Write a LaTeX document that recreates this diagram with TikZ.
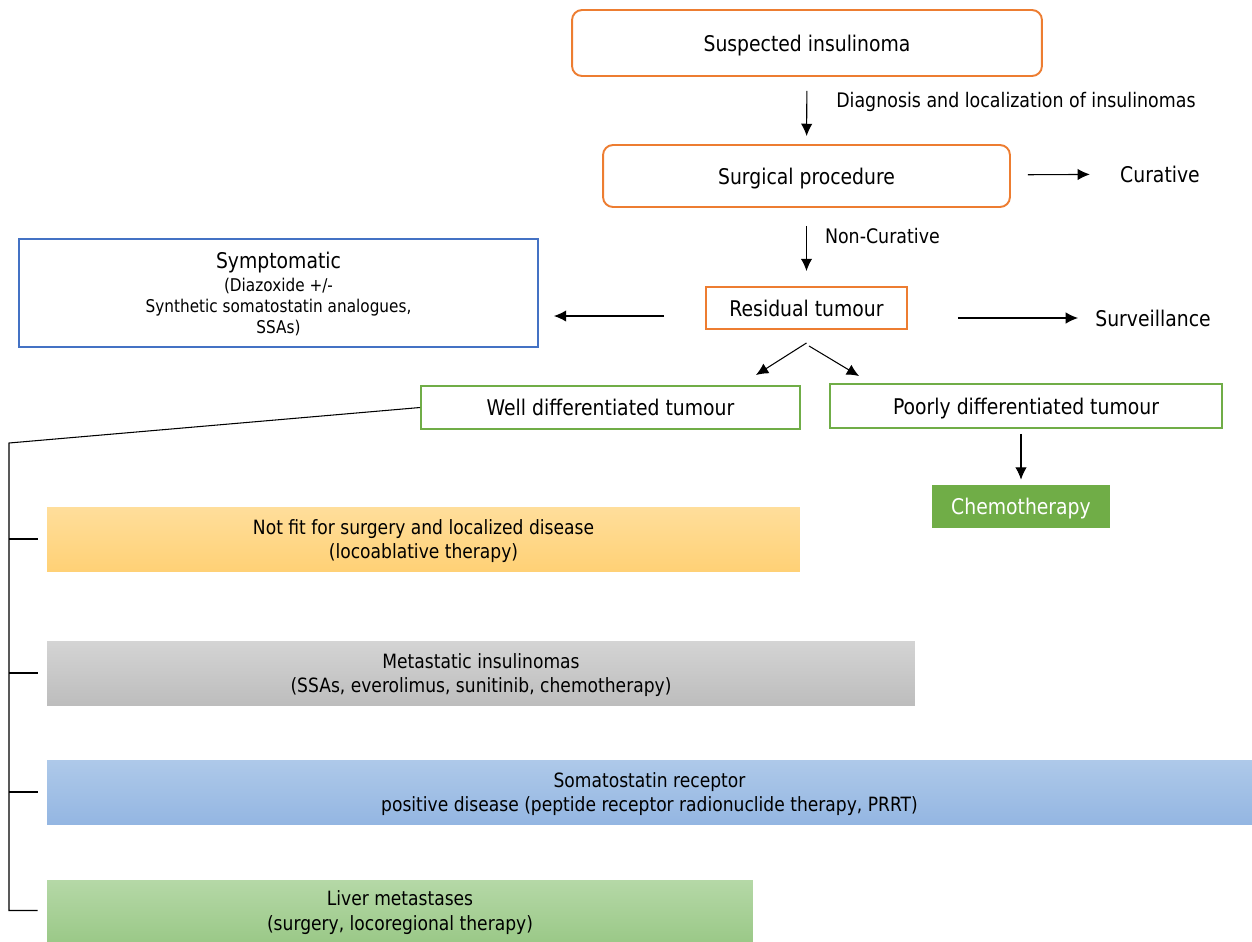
\documentclass[tikz,border=0pt]{standalone}
\usepackage{fontspec}
\setmainfont{DejaVu Sans}[FakeStretch=0.87]
\usetikzlibrary{positioning, arrows.meta}
\definecolor{insorange}{HTML}{ED7D31}
\definecolor{insblue}{HTML}{4472C4}
\definecolor{insgreen}{HTML}{70AD47}

\begin{document}
\begin{tikzpicture}[x=0.02cm, y=-0.02cm,
  big/.style={font=\fontsize{12.3}{14}\selectfont, text depth=0pt},
  small/.style={font=\fontsize{11.4}{13.7}\selectfont},
  stage/.style={draw=insorange, line width=1.1pt, rounded corners=0.2cm, big},
  tumbox/.style={line width=1.1pt, big},
  treat/.style={align=center, inner sep=0pt, text depth=0pt, font=\fontsize{11.2}{13.7}\selectfont},
  arr/.style={-{Latex[length=7pt,width=6.5pt]}, line width=0.6pt},
  tree/.style={line width=0.6pt}]
            \useasboundingbox (0,0) rectangle (1252,941);

            \node[stage, minimum width=9.4cm, minimum height=1.32cm] (susp) at (807,43) {Suspected insulinoma};
            \node[stage, minimum width=8.14cm, minimum height=1.24cm] (surg) at (806.5,176) {Surgical procedure};
            \node[tumbox, draw=insorange, minimum width=4.02cm, minimum height=0.84cm] (resid) at (806.5,308) {Residual tumour};
            \node[tumbox, draw=insblue, minimum width=10.38cm, minimum height=2.16cm, align=center,
                  font=\fontsize{10}{12}\selectfont] (symp) at (278.5,293)
                  {{\fontsize{12.3}{12}\selectfont Symptomatic}\\[1pt](Diazoxide +/-\\Synthetic somatostatin analogues,\\SSAs)};
            \node[tumbox, draw=insgreen, minimum width=7.58cm, minimum height=0.86cm] (well) at (610.5,407.5) {Well differentiated tumour};
            \node[tumbox, draw=insgreen, minimum width=7.84cm, minimum height=0.88cm] (poor) at (1026,406) {Poorly differentiated tumour};
            \node[big, fill=insgreen, text=white, minimum width=3.56cm, minimum height=0.86cm] (chemo) at (1021,506.5) {Chemotherapy};
            \node[big, inner sep=0pt] (cur) at (1160,174) {Curative};
            \node[big, inner sep=0pt] (surv) at (1153,318) {Surveillance};

            \node[treat, top color={rgb,255:red,255;green,222;blue,155}, bottom color={rgb,255:red,255;green,209;blue,118},
                  minimum width=15.06cm, minimum height=1.28cm] (fit) at (423.5,539)
                  {Not fit for surgery and localized disease\\(locoablative therapy)};
            \node[treat, top color={rgb,255:red,212;green,212;blue,212}, bottom color={rgb,255:red,189;green,189;blue,189},
                  minimum width=17.36cm, minimum height=1.28cm] (meta) at (481,673)
                  {Metastatic insulinomas\\(SSAs, everolimus, sunitinib, chemotherapy)};
            \node[treat, top color={rgb,255:red,174;green,201;blue,233}, bottom color={rgb,255:red,148;green,182;blue,226},
                  minimum width=24.1cm, minimum height=1.28cm] (prrt) at (649.5,792)
                  {Somatostatin receptor\\positive disease (peptide receptor radionuclide therapy, PRRT)};
            \node[treat, top color={rgb,255:red,181;green,216;blue,167}, bottom color={rgb,255:red,155;green,201;blue,136},
                  minimum width=14.12cm, minimum height=1.22cm] (liver) at (400,910.5)
                  {Liver metastases\\(surgery, locoregional therapy)};

            \draw[arr, shorten <=0.28cm, shorten >=0.16cm] (susp) -- (surg)
                node[small, pos=0.37, right=0.58cm, inner sep=0pt] {Diagnosis and localization of insulinomas};
            \draw[arr, shorten <=0.34cm, shorten >=0.6cm] (surg) -- (cur);
            \draw[arr, shorten <=0.36cm, shorten >=0.3cm] (surg) -- (resid)
                node[small, pos=0.36, right=0.36cm, inner sep=0pt] {Non-Curative};
            \draw[arr, shorten <=0.82cm, shorten >=0.3cm] ([yshift=-0.16cm]resid.west) -- ([yshift=-0.16cm]resid.west -| symp.east);
            \draw[arr, shorten <=1cm, shorten >=0.34cm] (surv -| resid.east) -- (surv.west);
            \draw[arr] ([yshift=-0.26cm]resid.south) -- ([xshift=-0.9cm,yshift=0.2cm]well.north east);
            \draw[arr] ([xshift=0.05cm,yshift=-0.32cm]resid.south) -- ([xshift=0.6cm,yshift=0.14cm]poor.north west);
            \draw[arr, shorten <=0.1cm, shorten >=0.1cm] (chemo |- poor.south) -- (chemo.north);

            \coordinate (bend) at (9,443);
            \draw[tree] (well.west) -- (bend) -- (bend |- liver.west) -- ([xshift=-0.18cm]liver.west);
            \foreach \b in {fit, meta, prrt}
              \draw[tree] (bend |- \b.west) -- ([xshift=-0.18cm]\b.west);
        \end{tikzpicture}
\end{document}
